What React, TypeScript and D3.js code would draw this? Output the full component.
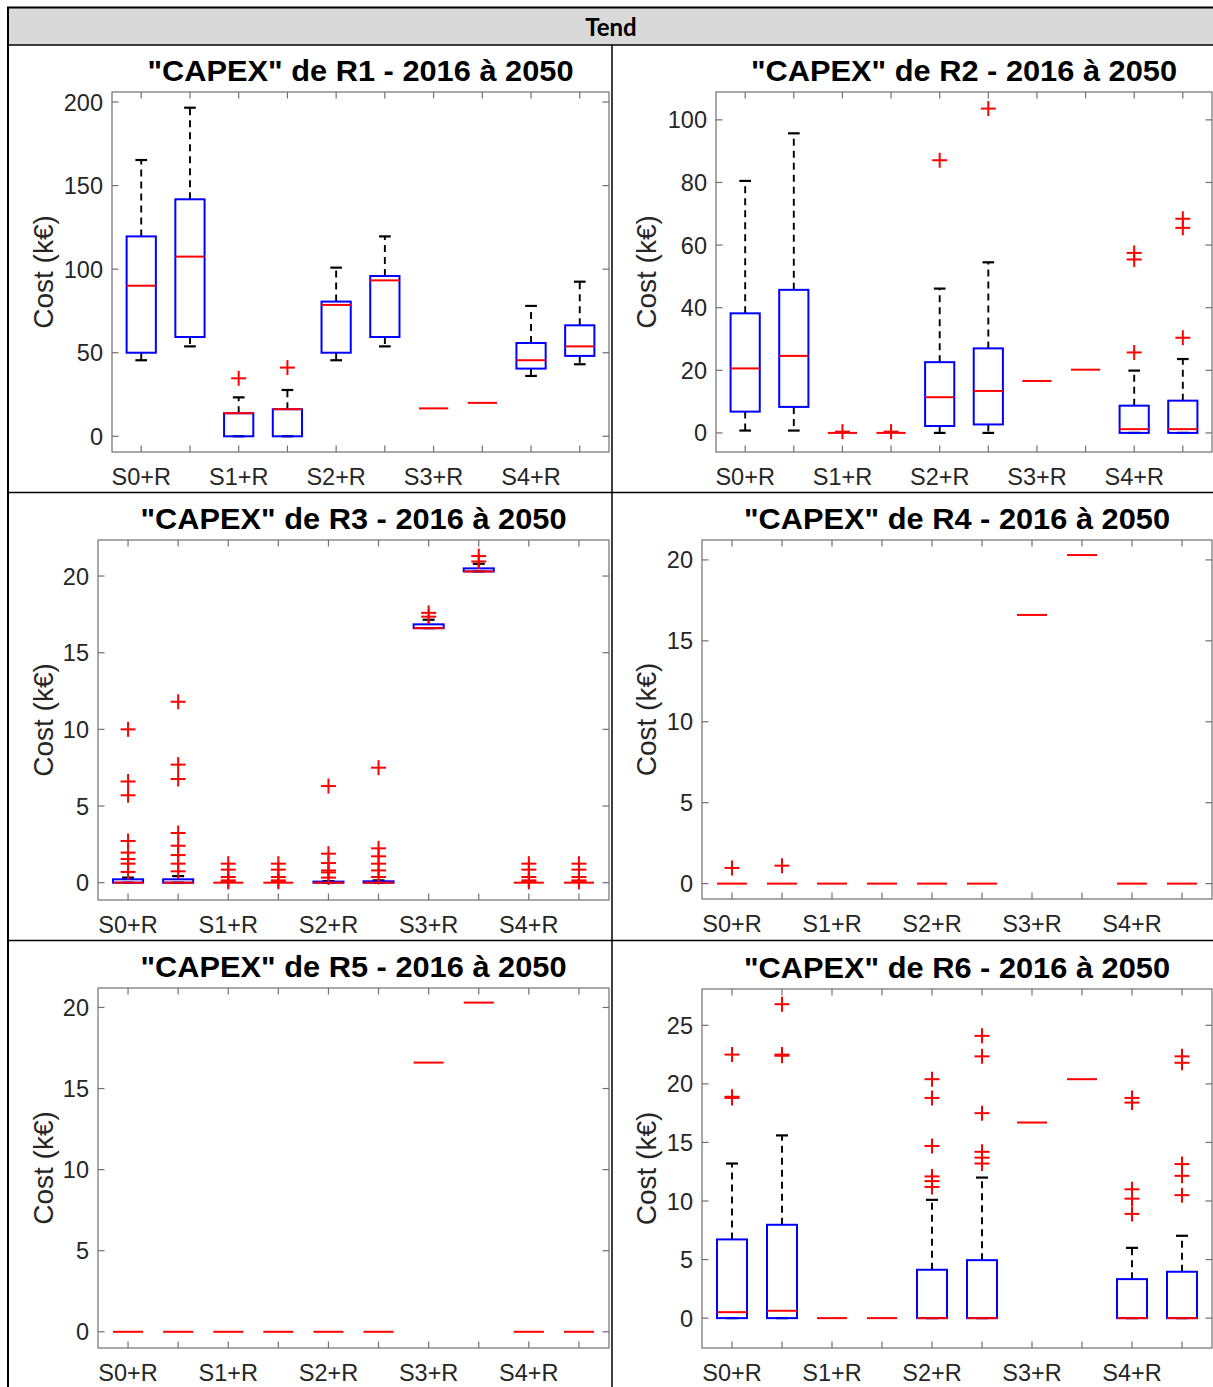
import React from "react";
import * as d3 from "d3";

// ---------- DATA ----------
const categories = ["S0+R", "S1+R", "S2+R", "S3+R", "S4+R"];
const boxPositions = [1, 2, 3, 4, 5, 6, 7, 8, 9, 10];
const panelTitles = [
  '"CAPEX" de R1 - 2016 à 2050',
  '"CAPEX" de R2 - 2016 à 2050',
  '"CAPEX" de R3 - 2016 à 2050',
  '"CAPEX" de R4 - 2016 à 2050',
  '"CAPEX" de R5 - 2016 à 2050',
  '"CAPEX" de R6 - 2016 à 2050',
];
const yLabel = "Cost (k€)";
const headerText = "Tend";

// each entry: [lower whisker, q1, median, q3, upper whisker]
const r1Stats = [
  [45.5, 50, 90.1, 119.6, 165.3],
  [53.8, 59.4, 107.5, 141.8, 196.6],
  [0, 0, 13.8, 13.8, 23.3],
  [0, 0, 16.2, 16.2, 27.7],
  [45.5, 50, 78.6, 80.6, 100.9],
  [53.8, 59.4, 93.3, 95.9, 119.6],
  [16.7, 16.7, 16.7, 16.7, 16.7],
  [20.0, 20.0, 20.0, 20.0, 20.0],
  [36.1, 40.5, 45.5, 55.8, 78],
  [43.1, 48.1, 53.8, 66.4, 92.5],
];
const r1Outliers = [[], [], [34.7], [41.1], [], [], [], [], [], []];

const r2Stats = [
  [0.75, 6.8, 20.6, 38.2, 80.5],
  [0.75, 8.3, 24.6, 45.7, 95.7],
  [0, 0, 0, 0, 0],
  [0, 0, 0, 0, 0],
  [0, 2.2, 11.4, 22.6, 46.1],
  [0, 2.7, 13.4, 27.0, 54.5],
  [16.6, 16.6, 16.6, 16.6, 16.6],
  [20.2, 20.2, 20.2, 20.2, 20.2],
  [0, 0, 1.2, 8.7, 19.9],
  [0, 0, 1.2, 10.3, 23.6],
];
const r2Outliers = [[], [], [0.4], [0.4], [87.1], [103.6], [], [], [57.5, 55.4, 25.7], [68.4, 65.5, 30.4]];

const r3Stats = [
  [0, 0, 0, 0.22, 0.33],
  [0, 0, 0, 0.22, 0.43],
  [0, 0, 0, 0, 0],
  [0, 0, 0, 0, 0],
  [0, 0, 0, 0.07, 0.1],
  [0, 0, 0, 0.09, 0.15],
  [16.6, 16.6, 16.6, 16.85, 17.15],
  [20.3, 20.3, 20.3, 20.5, 20.8],
  [0, 0, 0, 0, 0],
  [0, 0, 0, 0, 0],
];
const r3Outliers = [
  [10.0, 6.6, 5.7, 2.72, 1.96, 1.54, 1.24, 0.7],
  [11.8, 7.7, 6.76, 3.24, 2.41, 1.8, 1.24, 0.74],
  [1.24, 0.85, 0.37, 0.15, 0.05],
  [1.24, 0.85, 0.37, 0.15, 0.05],
  [6.3, 1.89, 1.28, 0.8, 0.67, 0.33],
  [7.5, 2.24, 1.72, 1.24, 0.8, 0.37],
  [17.6, 17.35],
  [21.3, 20.95],
  [1.24, 0.85, 0.37, 0.15, 0.05],
  [1.24, 0.85, 0.37, 0.15, 0.05],
];

const r4Stats = [
  [0, 0, 0, 0, 0],
  [0, 0, 0, 0, 0],
  [0, 0, 0, 0, 0],
  [0, 0, 0, 0, 0],
  [0, 0, 0, 0, 0],
  [0, 0, 0, 0, 0],
  [16.6, 16.6, 16.6, 16.6, 16.6],
  [20.3, 20.3, 20.3, 20.3, 20.3],
  [0, 0, 0, 0, 0],
  [0, 0, 0, 0, 0],
];
const r4Outliers = [[0.97], [1.11], [], [], [], [], [], [], [], []];

const r5Stats = [
  [0, 0, 0, 0, 0],
  [0, 0, 0, 0, 0],
  [0, 0, 0, 0, 0],
  [0, 0, 0, 0, 0],
  [0, 0, 0, 0, 0],
  [0, 0, 0, 0, 0],
  [16.6, 16.6, 16.6, 16.6, 16.6],
  [20.3, 20.3, 20.3, 20.3, 20.3],
  [0, 0, 0, 0, 0],
  [0, 0, 0, 0, 0],
];
const r5Outliers = [[], [], [], [], [], [], [], [], [], []];

const r6Stats = [
  [0, 0, 0.51, 6.72, 13.2],
  [0, 0, 0.63, 7.97, 15.6],
  [0, 0, 0, 0, 0],
  [0, 0, 0, 0, 0],
  [0, 0, 0, 4.13, 10.1],
  [0, 0, 0, 4.95, 12.0],
  [16.7, 16.7, 16.7, 16.7, 16.7],
  [20.4, 20.4, 20.4, 20.4, 20.4],
  [0, 0, 0, 3.33, 6.0],
  [0, 0, 0, 3.96, 7.03],
];
const r6Outliers = [
  [22.5, 18.9, 18.8],
  [26.8, 22.5, 22.4],
  [],
  [],
  [20.4, 18.8, 14.7, 12.1, 11.7, 11.2],
  [24.1, 22.35, 17.5, 14.2, 13.7, 13.2],
  [],
  [],
  [18.8, 18.4, 11.0, 10.2, 8.9],
  [22.35, 21.8, 13.15, 12.15, 10.5],
];

const r1Ticks = [0, 50, 100, 150, 200];
const r2Ticks = [0, 20, 40, 60, 80, 100];
const r3Ticks = [0, 5, 10, 15, 20];
const r4Ticks = [0, 5, 10, 15, 20];
const r5Ticks = [0, 5, 10, 15, 20];
const r6Ticks = [0, 5, 10, 15, 20, 25];

const r1Limits = [-9.4, 206];
const r2Limits = [-6.1, 108.9];
const r3Limits = [-1.13, 22.35];
const r4Limits = [-0.95, 21.23];
const r5Limits = [-1.0, 21.2];
const r6Limits = [-2.55, 28.1];
const xLimits = [0.4, 10.6];

// ---------- LAYOUT ----------
const W = 1213;
const H = 1387;
const layouts = [
  { left: 112, right: 609, top: 92, bottom: 452, labelX: 43 },
  { left: 716, right: 1212, top: 92, bottom: 452, labelX: 646 },
  { left: 98, right: 609, top: 540, bottom: 900, labelX: 43 },
  { left: 702, right: 1212, top: 540, bottom: 899, labelX: 646 },
  { left: 98, right: 609, top: 988, bottom: 1348, labelX: 43 },
  { left: 702, right: 1212, top: 989, bottom: 1348, labelX: 646 },
];

const panelData = [
  { stats: r1Stats, outliers: r1Outliers, ticks: r1Ticks, limits: r1Limits },
  { stats: r2Stats, outliers: r2Outliers, ticks: r2Ticks, limits: r2Limits },
  { stats: r3Stats, outliers: r3Outliers, ticks: r3Ticks, limits: r3Limits },
  { stats: r4Stats, outliers: r4Outliers, ticks: r4Ticks, limits: r4Limits },
  { stats: r5Stats, outliers: r5Outliers, ticks: r5Ticks, limits: r5Limits },
  { stats: r6Stats, outliers: r6Outliers, ticks: r6Ticks, limits: r6Limits },
];

const FONT = "'Liberation Sans', Arial, Helvetica, sans-serif";
const TEXT = "#262626";
const AXIS = "#707070";
const BOX_W = 0.6;
const CAP_W = 0.24;
const PLUS = 7.5;

function Panel({ idx }: { idx: number }) {
  const L = layouts[idx];
  const D = panelData[idx];
  const x = d3.scaleLinear().domain(xLimits).range([L.left, L.right]);
  const y = d3.scaleLinear().domain(D.limits).range([L.bottom, L.top]);
  const tickLen = 6.5;
  const midY = (L.top + L.bottom) / 2;
  const cx = (L.left + L.right) / 2;

  return (
    <g>
      <text
        x={cx}
        y={L.top - 11}
        textAnchor="middle"
        fontFamily={FONT}
        fontWeight="bold"
        fontSize={30}
        textLength={426}
        lengthAdjust="spacingAndGlyphs"
        fill="#000"
      >
        {panelTitles[idx]}
      </text>
      <text
        transform={`translate(${L.labelX},${midY}) rotate(-90)`}
        textAnchor="middle"
        dominantBaseline="central"
        fontFamily={FONT}
        fontSize={28}
        fill={TEXT}
      >
        {yLabel}
      </text>
      {/* axes frame */}
      <rect x={L.left} y={L.top} width={L.right - L.left} height={L.bottom - L.top} fill="none" stroke={AXIS} strokeWidth={1.2} />
      {/* x ticks top/bottom */}
      {boxPositions.map((p) => (
        <g key={"xt" + p}>
          <line x1={x(p)} x2={x(p)} y1={L.bottom} y2={L.bottom - tickLen} stroke={AXIS} strokeWidth={1.2} />
          <line x1={x(p)} x2={x(p)} y1={L.top} y2={L.top + tickLen} stroke={AXIS} strokeWidth={1.2} />
        </g>
      ))}
      {categories.map((c, i) => (
        <text key={c} x={x(boxPositions[i * 2])} y={L.bottom + 33} textAnchor="middle" fontFamily={FONT} fontSize={23.5} fill={TEXT}>
          {c}
        </text>
      ))}
      {/* y ticks */}
      {D.ticks.map((t) => (
        <g key={"yt" + t}>
          <line x1={L.left} x2={L.left + tickLen} y1={y(t)} y2={y(t)} stroke={AXIS} strokeWidth={1.2} />
          <line x1={L.right} x2={L.right - tickLen} y1={y(t)} y2={y(t)} stroke={AXIS} strokeWidth={1.2} />
          <text x={L.left - 9} y={y(t) + 8.5} textAnchor="end" fontFamily={FONT} fontSize={23.5} fill={TEXT}>
            {t}
          </text>
        </g>
      ))}
      {/* boxes */}
      {D.stats.map((s, i) => {
        const p = boxPositions[i];
        const [lo, q1, med, q3, hi] = s;
        const xl = x(p - BOX_W / 2);
        const xr = x(p + BOX_W / 2);
        const cl = x(p - CAP_W / 2);
        const cr = x(p + CAP_W / 2);
        const allSame = lo === hi;
        return (
          <g key={"b" + i}>
            {!allSame && (
              <g>
                {hi > q3 && <line x1={x(p)} x2={x(p)} y1={y(q3)} y2={y(hi)} stroke="#000" strokeWidth={1.9} strokeDasharray="7,5" />}
                {lo < q1 && <line x1={x(p)} x2={x(p)} y1={y(q1)} y2={y(lo)} stroke="#000" strokeWidth={1.9} strokeDasharray="7,5" />}
                <line x1={cl} x2={cr} y1={y(hi)} y2={y(hi)} stroke="#000" strokeWidth={2.2} />
                <line x1={cl} x2={cr} y1={y(lo)} y2={y(lo)} stroke="#000" strokeWidth={2.2} />
                <rect x={xl} y={y(q3)} width={xr - xl} height={Math.max(0, y(q1) - y(q3))} fill="none" stroke="#0000ff" strokeWidth={2} />
              </g>
            )}
            <line x1={xl} x2={xr} y1={y(med)} y2={y(med)} stroke="#ff0000" strokeWidth={2} />
            {D.outliers[i].map((o, j) => (
              <g key={"o" + j}>
                <line x1={x(p) - PLUS} x2={x(p) + PLUS} y1={y(o)} y2={y(o)} stroke="#ff0000" strokeWidth={2} />
                <line x1={x(p)} x2={x(p)} y1={y(o) - PLUS} y2={y(o) + PLUS} stroke="#ff0000" strokeWidth={2} />
              </g>
            ))}
          </g>
        );
      })}
    </g>
  );
}

export default function App() {
  return (
    <div style={{ position: "absolute", left: 0, top: 0, width: W, height: H, overflow: "hidden", background: "#fff" }}>
      <svg width={W} height={H} style={{ display: "block" }}>
        <rect x={0} y={0} width={W} height={H} fill="#fff" />
        {/* header */}
        <rect x={8} y={8} width={W - 8} height={37} fill="#d9d9d9" />
        <text x={611} y={36} textAnchor="middle" fontFamily="Lato, 'Liberation Sans', sans-serif" fontWeight="bold" fontSize={24} fill="#000">
          {headerText}
        </text>
        {/* table lines */}
        <line x1={7} x2={W} y1={7.5} y2={7.5} stroke="#000" strokeWidth={2} />
        <line x1={8} x2={8} y1={7} y2={H} stroke="#000" strokeWidth={2} />
        <line x1={8} x2={W} y1={45} y2={45} stroke="#000" strokeWidth={1.5} />
        <line x1={612} x2={612} y1={45} y2={H} stroke="#000" strokeWidth={1.5} />
        <line x1={8} x2={W} y1={492.5} y2={492.5} stroke="#000" strokeWidth={1.5} />
        <line x1={8} x2={W} y1={940.5} y2={940.5} stroke="#000" strokeWidth={1.5} />
        {layouts.map((_, i) => (
          <Panel key={i} idx={i} />
        ))}
      </svg>
    </div>
  );
}
